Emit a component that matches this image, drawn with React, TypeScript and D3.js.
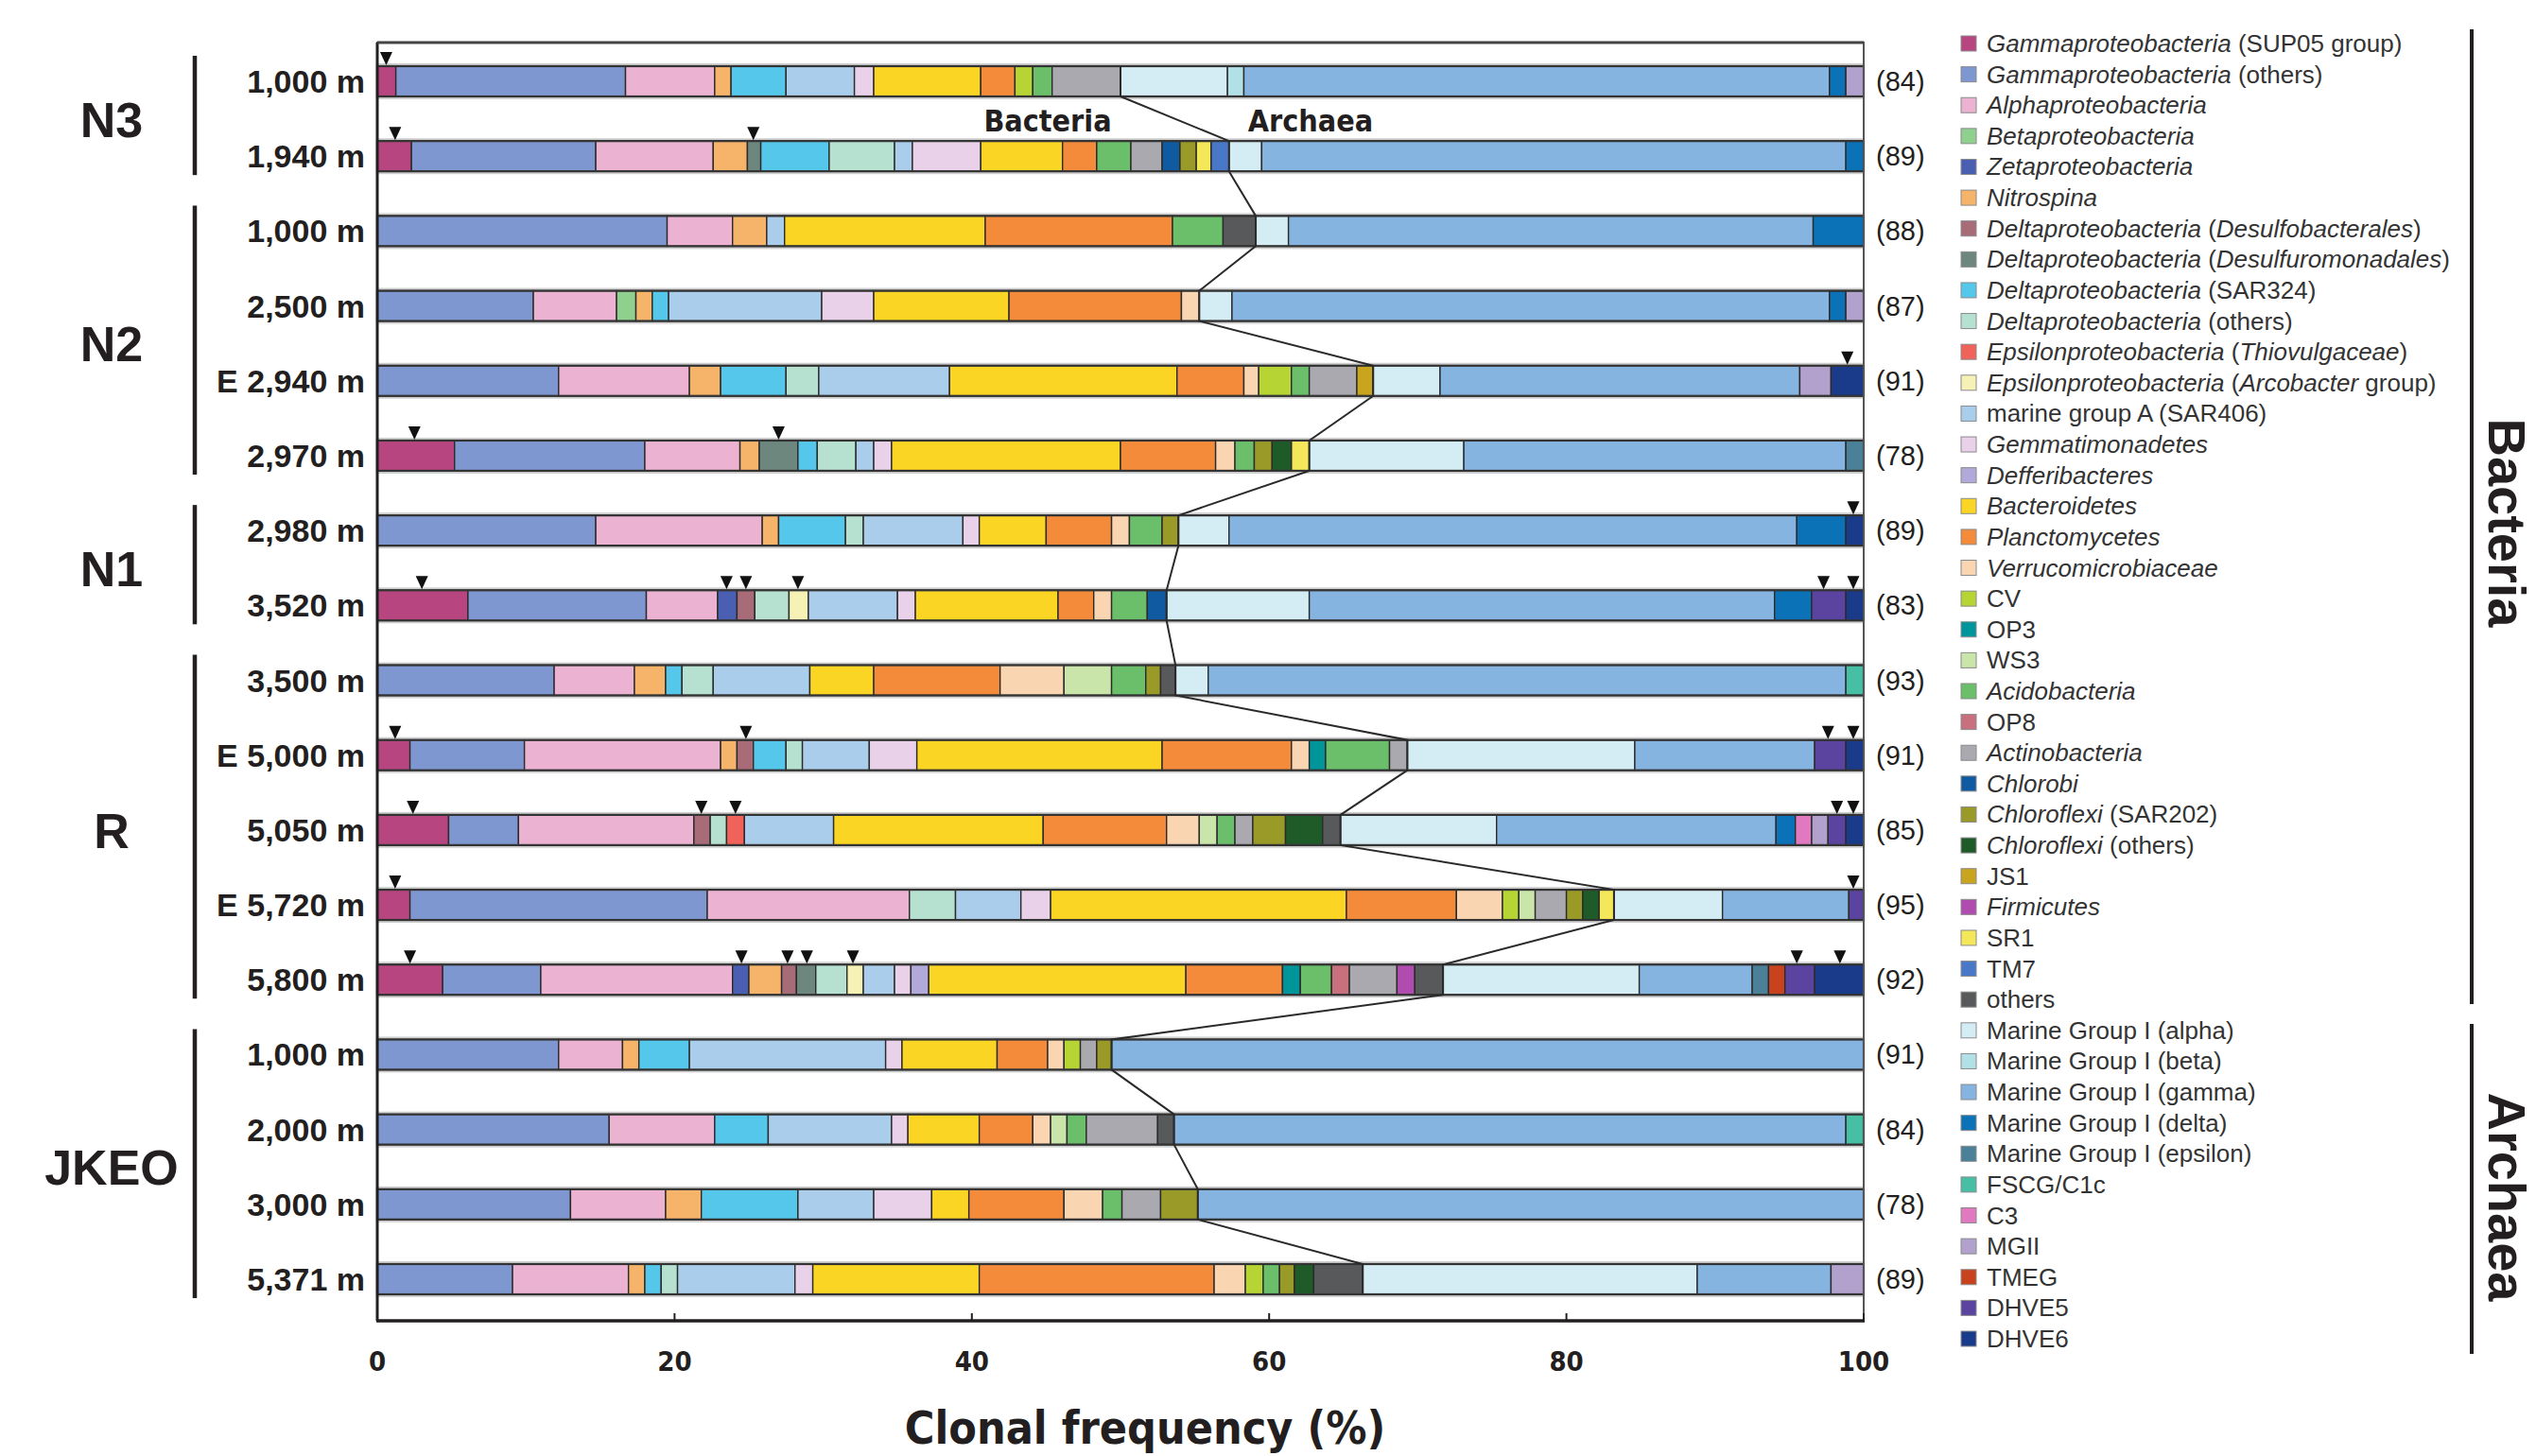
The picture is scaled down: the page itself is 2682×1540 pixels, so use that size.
import React from "react";
import * as d3 from "d3";

// category keys, legend labels (*...* = italic) and colours, in legend order
const categoryKeys = [
  "SUP05", "GamO", "Alpha", "Beta", "Zeta", "Nitro", "DesB", "DesM", "SAR324", "DelO",
  "Thio", "Arco", "SAR406", "Gemm", "Deff", "Bact", "Planc", "Verr", "CV", "OP3",
  "WS3", "Acido", "OP8", "Actino", "Chlb", "SAR202", "ChlO", "JS1", "Firm", "SR1",
  "TM7", "Oth",
  "MGIa", "MGIb", "MGIg", "MGId", "MGIe", "FSCG", "C3", "MGII", "TMEG", "DHVE5", "DHVE6",
];
const categoryLabels = [
  "*Gammaproteobacteria* (SUP05 group)",
  "*Gammaproteobacteria* (others)",
  "*Alphaproteobacteria*",
  "*Betaproteobacteria*",
  "*Zetaproteobacteria*",
  "*Nitrospina*",
  "*Deltaproteobacteria* (*Desulfobacterales*)",
  "*Deltaproteobacteria* (*Desulfuromonadales*)",
  "*Deltaproteobacteria* (SAR324)",
  "*Deltaproteobacteria* (others)",
  "*Epsilonproteobacteria* (*Thiovulgaceae*)",
  "*Epsilonproteobacteria* (*Arcobacter* group)",
  "marine group A (SAR406)",
  "*Gemmatimonadetes*",
  "*Defferibacteres*",
  "*Bacteroidetes*",
  "*Planctomycetes*",
  "*Verrucomicrobiaceae*",
  "CV",
  "OP3",
  "WS3",
  "*Acidobacteria*",
  "OP8",
  "*Actinobacteria*",
  "*Chlorobi*",
  "*Chloroflexi* (SAR202)",
  "*Chloroflexi* (others)",
  "JS1",
  "*Firmicutes*",
  "SR1",
  "TM7",
  "others",
  "Marine Group I (alpha)",
  "Marine Group I (beta)",
  "Marine Group I (gamma)",
  "Marine Group I (delta)",
  "Marine Group I (epsilon)",
  "FSCG/C1c",
  "C3",
  "MGII",
  "TMEG",
  "DHVE5",
  "DHVE6",
];
const categoryColors = [
  "#b7457f", "#7f97d0", "#ebb2d2", "#8fd08f", "#4a5fb2", "#f6b46a", "#a86b78", "#6d877e", "#55c7ea", "#b6e1d0",
  "#f0625a", "#f6f1b4", "#a9cdeb", "#e9d2e9", "#b1a9d9", "#fad524", "#f38b3a", "#f9d5b1", "#b6d535", "#00959b",
  "#c9e5a9", "#6bbf6a", "#c9707e", "#a9a9af", "#0f5aa0", "#9a9a29", "#1f5a29", "#c9a41f", "#b04bb0", "#f5e75a",
  "#4a78c8", "#58595b",
  "#d4ecf3", "#b1e0e6", "#86b4e0", "#0b72b8", "#4a8198", "#46bfa5", "#e079c0", "#b1a1cc", "#c8421e", "#5a44a0", "#1a3a8a",
];
const archaeaKeys = categoryKeys.slice(32);

// clone library composition (% of clones)
const n3_1000 = [
  ["SUP05", 1.25], ["GamO", 15.45], ["Alpha", 6.0], ["Nitro", 1.1], ["SAR324", 3.7], ["SAR406", 4.6], ["Gemm", 1.3],
  ["Bact", 7.2], ["Planc", 2.3], ["CV", 1.2], ["Acido", 1.3], ["Actino", 4.6],
  ["MGIa", 7.2], ["MGIb", 1.1], ["MGIg", 39.4], ["MGId", 1.1], ["MGII", 1.2],
];
const n3_1940 = [
  ["SUP05", 2.3], ["GamO", 12.4], ["Alpha", 7.9], ["Nitro", 2.3], ["DesM", 0.9], ["SAR324", 4.6], ["DelO", 4.4],
  ["SAR406", 1.2], ["Gemm", 4.6], ["Bact", 5.5], ["Planc", 2.3], ["Acido", 2.3], ["Actino", 2.1], ["Chlb", 1.2],
  ["SAR202", 1.1], ["SR1", 1.0], ["TM7", 1.2],
  ["MGIa", 2.2], ["MGIg", 39.3], ["MGId", 1.2],
];
const n2_1000 = [
  ["GamO", 19.5], ["Alpha", 4.4], ["Nitro", 2.3], ["SAR406", 1.2], ["Bact", 13.5], ["Planc", 12.6], ["Acido", 3.4],
  ["Oth", 2.2],
  ["MGIa", 2.2], ["MGIg", 35.3], ["MGId", 3.4],
];
const n2_2500 = [
  ["GamO", 10.5], ["Alpha", 5.6], ["Beta", 1.3], ["Nitro", 1.1], ["SAR324", 1.1], ["SAR406", 10.3], ["Gemm", 3.5],
  ["Bact", 9.1], ["Planc", 11.6], ["Verr", 1.2],
  ["MGIa", 2.2], ["MGIg", 40.2], ["MGId", 1.1], ["MGII", 1.2],
];
const n2_2940 = [
  ["GamO", 12.2], ["Alpha", 8.8], ["Nitro", 2.1], ["SAR324", 4.4], ["DelO", 2.2], ["SAR406", 8.8], ["Bact", 15.3],
  ["Planc", 4.5], ["Verr", 1.0], ["CV", 2.2], ["Acido", 1.2], ["Actino", 3.2], ["JS1", 1.1],
  ["MGIa", 4.5], ["MGIg", 24.2], ["MGII", 2.1], ["DHVE6", 2.2],
];
const n2_2970 = [
  ["SUP05", 5.2], ["GamO", 12.8], ["Alpha", 6.4], ["Nitro", 1.3], ["DesM", 2.6], ["SAR324", 1.3], ["DelO", 2.6],
  ["SAR406", 1.2], ["Gemm", 1.2], ["Bact", 15.4], ["Planc", 6.4], ["Verr", 1.3], ["Acido", 1.3], ["SAR202", 1.2],
  ["ChlO", 1.3], ["SR1", 1.2],
  ["MGIa", 10.4], ["MGIg", 25.7], ["MGIe", 1.2],
];
const n1_2980 = [
  ["GamO", 14.7], ["Alpha", 11.2], ["Nitro", 1.1], ["SAR324", 4.5], ["DelO", 1.2], ["SAR406", 6.7], ["Gemm", 1.1],
  ["Bact", 4.5], ["Planc", 4.4], ["Verr", 1.2], ["Acido", 2.2], ["SAR202", 1.1],
  ["MGIa", 3.4], ["MGIg", 38.2], ["MGId", 3.3], ["DHVE6", 1.2],
];
const n1_3520 = [
  ["SUP05", 6.1], ["GamO", 12.0], ["Alpha", 4.8], ["Zeta", 1.3], ["DesB", 1.2], ["DelO", 2.3], ["Arco", 1.3],
  ["SAR406", 6.0], ["Gemm", 1.2], ["Bact", 9.6], ["Planc", 2.4], ["Verr", 1.2], ["Acido", 2.4], ["Chlb", 1.3],
  ["MGIa", 9.6], ["MGIg", 31.3], ["MGId", 2.5], ["DHVE5", 2.3], ["DHVE6", 1.2],
];
const r_3500 = [
  ["GamO", 11.9], ["Alpha", 5.4], ["Nitro", 2.1], ["SAR324", 1.1], ["DelO", 2.1], ["SAR406", 6.5], ["Bact", 4.3],
  ["Planc", 8.5], ["Verr", 4.3], ["WS3", 3.2], ["Acido", 2.3], ["SAR202", 1.0], ["Oth", 1.0],
  ["MGIa", 2.2], ["MGIg", 42.9], ["FSCG", 1.2],
];
const r_5000 = [
  ["SUP05", 2.2], ["GamO", 7.7], ["Alpha", 13.2], ["Nitro", 1.1], ["DesB", 1.1], ["SAR324", 2.2], ["DelO", 1.1],
  ["SAR406", 4.5], ["Gemm", 3.2], ["Bact", 16.5], ["Planc", 8.7], ["Verr", 1.2], ["OP3", 1.1], ["Acido", 4.3],
  ["Actino", 1.2],
  ["MGIa", 15.3], ["MGIg", 12.1], ["DHVE5", 2.1], ["DHVE6", 1.2],
];
const r_5050 = [
  ["SUP05", 4.8], ["GamO", 4.7], ["Alpha", 11.8], ["DesB", 1.1], ["DelO", 1.1], ["Thio", 1.2], ["SAR406", 6.0],
  ["Bact", 14.1], ["Planc", 8.3], ["Verr", 2.2], ["WS3", 1.2], ["Acido", 1.2], ["Actino", 1.2], ["SAR202", 2.2],
  ["ChlO", 2.5], ["Oth", 1.2],
  ["MGIa", 10.5], ["MGIg", 18.8], ["MGId", 1.3], ["C3", 1.1], ["MGII", 1.1], ["DHVE5", 1.2], ["DHVE6", 1.2],
];
const r_5720 = [
  ["SUP05", 2.2], ["GamO", 20.0], ["Alpha", 13.6], ["DelO", 3.1], ["SAR406", 4.4], ["Gemm", 2.0], ["Bact", 19.9],
  ["Planc", 7.4], ["Verr", 3.1], ["CV", 1.1], ["WS3", 1.1], ["Actino", 2.1], ["SAR202", 1.1], ["ChlO", 1.1],
  ["SR1", 1.0],
  ["MGIa", 7.3], ["MGIg", 8.5], ["DHVE5", 1.0],
];
const r_5800 = [
  ["SUP05", 4.4], ["GamO", 6.6], ["Alpha", 12.9], ["Zeta", 1.1], ["Nitro", 2.2], ["DesB", 1.0], ["DesM", 1.3],
  ["DelO", 2.1], ["Arco", 1.1], ["SAR406", 2.1], ["Gemm", 1.1], ["Deff", 1.2], ["Bact", 17.3], ["Planc", 6.5],
  ["OP3", 1.2], ["Acido", 2.1], ["OP8", 1.2], ["Actino", 3.2], ["Firm", 1.2], ["Oth", 1.9],
  ["MGIa", 13.2], ["MGIg", 7.6], ["MGIe", 1.1], ["TMEG", 1.1], ["DHVE5", 2.0], ["DHVE6", 3.3],
];
const jkeo_1000 = [
  ["GamO", 12.2], ["Alpha", 4.3], ["Nitro", 1.1], ["SAR324", 3.4], ["SAR406", 13.2], ["Gemm", 1.1], ["Bact", 6.4],
  ["Planc", 3.4], ["Verr", 1.1], ["CV", 1.1], ["Actino", 1.1], ["SAR202", 1.0],
  ["MGIg", 50.6],
];
const jkeo_2000 = [
  ["GamO", 15.6], ["Alpha", 7.1], ["SAR324", 3.6], ["SAR406", 8.3], ["Gemm", 1.1], ["Bact", 4.8], ["Planc", 3.6],
  ["Verr", 1.2], ["WS3", 1.1], ["Acido", 1.3], ["Actino", 4.8], ["Oth", 1.1],
  ["MGIg", 45.2], ["FSCG", 1.2],
];
const jkeo_3000 = [
  ["GamO", 13.0], ["Alpha", 6.4], ["Nitro", 2.4], ["SAR324", 6.5], ["SAR406", 5.1], ["Gemm", 3.9], ["Bact", 2.5],
  ["Planc", 6.4], ["Verr", 2.6], ["Acido", 1.3], ["Actino", 2.6], ["SAR202", 2.5],
  ["MGIg", 44.8],
];
const jkeo_5371 = [
  ["GamO", 9.1], ["Alpha", 7.8], ["Nitro", 1.1], ["SAR324", 1.1], ["DelO", 1.1], ["SAR406", 7.9], ["Gemm", 1.2],
  ["Bact", 11.2], ["Planc", 15.8], ["Verr", 2.1], ["CV", 1.2], ["Acido", 1.1], ["SAR202", 1.0], ["ChlO", 1.3],
  ["Oth", 3.3],
  ["MGIa", 22.5], ["MGIg", 9.0], ["MGII", 2.2],
];

const rowData = [
  n3_1000, n3_1940, n2_1000, n2_2500, n2_2940, n2_2970, n1_2980, n1_3520,
  r_3500, r_5000, r_5050, r_5720, r_5800, jkeo_1000, jkeo_2000, jkeo_3000, jkeo_5371,
] as [string, number][][];
const rowLabels = [
  "1,000 m", "1,940 m", "1,000 m", "2,500 m", "E 2,940 m", "2,970 m", "2,980 m", "3,520 m",
  "3,500 m", "E 5,000 m", "5,050 m", "E 5,720 m", "5,800 m", "1,000 m", "2,000 m", "3,000 m", "5,371 m",
];
const cloneCounts = [84, 89, 88, 87, 91, 78, 89, 83, 93, 91, 85, 95, 92, 91, 84, 78, 89];
// arrowheads (%) above the bars
const markers = [
  [0.6], [1.2, 25.3], [], [], [98.9], [2.5, 27.0], [99.3], [3.0, 23.5, 24.8, 28.3, 97.3, 99.3],
  [], [1.2, 24.8, 97.6, 99.3], [2.4, 21.8, 24.1, 98.2, 99.3], [1.2, 99.3],
  [2.2, 24.5, 27.6, 28.9, 32.0, 95.5, 98.4], [], [], [], [],
];
const groupNames = ["N3", "N2", "N1", "R", "JKEO"];
const groupFirst = [0, 2, 6, 8, 13];
const groupLast = [1, 5, 7, 12, 16];

const SANS = "'Liberation Sans', Arial, Helvetica, sans-serif";
const COND = "'DejaVu Sans Condensed', 'DejaVu Sans', sans-serif";
const INK = "#231f20";

const W = 2682;
const H = 1540;
const barH = 32;

const x = d3.scaleLinear().domain([0, 100]).range([399, 1971]);
const y = d3.scalePoint<number>().domain(d3.range(rowData.length)).range([86, 1353]);
const color = d3.scaleOrdinal<string, string>().domain(categoryKeys).range(categoryColors);
const legendY = d3.scalePoint<number>().domain(d3.range(categoryKeys.length)).range([46, 1416]);

function richText(label: string) {
  return label.split("*").map((part, i) => (
    <tspan key={i} fontStyle={i % 2 === 1 ? "italic" : "normal"}>{part}</tspan>
  ));
}

const App = () => {
  const rows = rowData.map((segs, i) => {
    const total = d3.sum(segs, (d) => d[1]);
    const ends = Array.from(d3.cumsum(segs, (d) => d[1])).map((v) => (v / total) * 100);
    const parts = segs.map((d, j) => ({
      key: d[0],
      x0: j === 0 ? 0 : ends[j - 1],
      x1: ends[j],
    }));
    const bact = d3.sum(segs.filter((d) => !archaeaKeys.includes(d[0])), (d) => d[1]);
    return { i, parts, boundary: (bact / total) * 100 };
  });

  const linePts: [number, number][] = [];
  rows.forEach((r) => {
    linePts.push([x(r.boundary), y(r.i)! - barH / 2]);
    linePts.push([x(r.boundary), y(r.i)! + barH / 2]);
  });
  const connector = d3.line()(linePts) || "";

  const [xl, xr] = x.range();
  const top = 45;
  const bottom = 1397;

  return (
    <svg width={W} height={H} style={{ position: "absolute", left: 0, top: 0, background: "#fff" }}>
      <rect width={W} height={H} fill="#fff" />

      {/* bars */}
      {rows.map((r) => {
        const cy = y(r.i)!;
        return (
          <g key={r.i}>
            <rect x={xl} y={cy - barH / 2 - 3} width={xr - xl} height={barH + 6} fill="#cfcfcf" />
            {r.parts.map((p, j) => (
              <rect
                key={j}
                x={x(p.x0)}
                y={cy - barH / 2}
                width={x(p.x1) - x(p.x0)}
                height={barH}
                fill={color(p.key)}
                stroke="#2b2b2b"
                strokeWidth={1.4}
              />
            ))}
            <rect x={xl} y={cy - barH / 2} width={xr - xl} height={barH} fill="none" stroke="#333" strokeWidth={2.2} />
            {markers[r.i].map((m, k) => (
              <path
                key={k}
                d={`M${x(m) - 6.5},${cy - barH / 2 - 15} L${x(m) + 6.5},${cy - barH / 2 - 15} L${x(m)},${cy - barH / 2 - 1} Z`}
                fill="#111"
              />
            ))}
            <text x={386} y={cy + 12} textAnchor="end" fontFamily={SANS} fontWeight="bold" fontSize={34} fill={INK}>
              {rowLabels[r.i]}
            </text>
            <text x={1984} y={cy + 10} fontFamily={SANS} fontSize={29} fill={INK}>
              ({cloneCounts[r.i]})
            </text>
          </g>
        );
      })}

      {/* bacteria / archaea divide */}
      <path d={connector} fill="none" stroke="#2a2a2a" strokeWidth={2} />
      <text x={1108} y={139} textAnchor="middle" fontFamily={COND} fontStretch="condensed" fontWeight="bold" fontSize={32} fill={INK}>
        Bacteria
      </text>
      <text x={1386} y={139} textAnchor="middle" fontFamily={COND} fontStretch="condensed" fontWeight="bold" fontSize={32} fill={INK}>
        Archaea
      </text>

      {/* frame and axis */}
      <rect x={xl} y={top} width={xr - xl} height={bottom - top} fill="none" stroke="#555" strokeWidth={2} />
      <line x1={xl} x2={xl} y1={top} y2={bottom} stroke={INK} strokeWidth={3} />
      <line x1={xl - 1} x2={xr + 1} y1={bottom} y2={bottom} stroke={INK} strokeWidth={3.5} />
      <line x1={xl} x2={xr} y1={top} y2={top} stroke="#444" strokeWidth={3} />
      {x.ticks(5).map((t) => (
        <g key={t}>
          <line x1={x(t)} x2={x(t)} y1={bottom} y2={bottom - 8} stroke={INK} strokeWidth={2} />
          <text x={x(t)} y={1450} textAnchor="middle" fontFamily={COND} fontStretch="condensed" fontWeight="bold" fontSize={29} fill={INK}>
            {t}
          </text>
        </g>
      ))}
      <text x={1211} y={1527} textAnchor="middle" fontFamily={COND} fontStretch="condensed" fontWeight="bold" fontSize={48} fill={INK}>
        Clonal frequency (%)
      </text>

      {/* sampling sites */}
      {groupNames.map((g, k) => {
        const y0 = y(groupFirst[k])!;
        const y1 = y(groupLast[k])!;
        return (
          <g key={g}>
            <line x1={206} x2={206} y1={y0 - 27} y2={y1 + 20} stroke={INK} strokeWidth={4.5} />
            <text x={118} y={(y0 + y1) / 2 + 19} textAnchor="middle" fontFamily={SANS} fontWeight="bold" fontSize={52} fill={INK}>
              {g}
            </text>
          </g>
        );
      })}

      {/* legend */}
      {categoryKeys.map((k, i) => {
        const ly = legendY(i)!;
        return (
          <g key={k}>
            <rect x={2074} y={ly - 8} width={16} height={16} fill={color(k)} stroke="#8a8a8a" strokeWidth={1} />
            <text x={2101} y={ly + 9} fontFamily={SANS} fontSize={26} fill="#333">
              {richText(categoryLabels[i])}
            </text>
          </g>
        );
      })}
      <line x1={2614} x2={2614} y1={31} y2={1062} stroke={INK} strokeWidth={4} />
      <line x1={2614} x2={2614} y1={1083} y2={1432} stroke={INK} strokeWidth={4} />
      <g transform="translate(2652,553) rotate(90)">
        <text textAnchor="middle" dy="0.36em" fontFamily={SANS} fontWeight="bold" fontSize={56} fill={INK}>
          Bacteria
        </text>
      </g>
      <g transform="translate(2652,1266) rotate(90)">
        <text textAnchor="middle" dy="0.36em" fontFamily={SANS} fontWeight="bold" fontSize={56} fill={INK}>
          Archaea
        </text>
      </g>
    </svg>
  );
};

export default App;
